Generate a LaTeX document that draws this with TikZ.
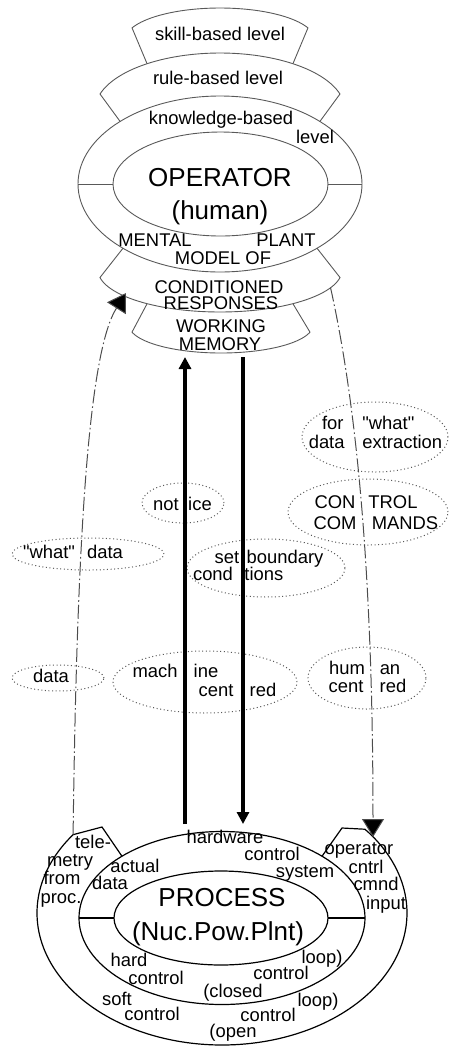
\documentclass[tikz,border=0pt]{standalone}
\usepackage{fontspec}
\setmainfont{Liberation Sans}[Ligatures=TeXOff]
\usetikzlibrary{arrows.meta,shapes.geometric}
\begin{document}
\begin{tikzpicture}[x=0.5pt,y=-0.5pt,
  lab/.style={font=\fontsize{9.2}{10}\selectfont, inner sep=0pt, text height=6.6pt, text depth=0pt},
  big/.style={font=\fontsize{13}{15}\selectfont, inner sep=0pt, text height=9.3pt, text depth=0pt},
  faint/.style={draw=black!65, line width=0.45pt},
  solidl/.style={draw=black, line width=0.6pt},
  dotell/.style={ellipse, draw=black!65, line width=0.5pt, dash pattern=on 0.5pt off 1.3pt, inner sep=0pt, outer sep=0pt},
  ring/.style={ellipse, inner sep=0pt, outer sep=0pt},
  thickarrow/.style={line width=2pt, -{Triangle[length=6pt,width=6pt]}},
  conn/.style={draw=black!70, line width=0.5pt, dash pattern=on 7pt off 1.5pt on 0.8pt off 1.5pt, -{Triangle[length=9pt,width=11pt,fill=black]}}
]
\useasboundingbox (0,0) rectangle (451,1046);

% ---------- operator (top) structure ----------
\node[ring, faint, minimum width=142pt, minimum height=88pt] (kbE) at (220,184) {};
\node[ring, faint, minimum width=107.5pt, minimum height=52pt] (opE) at (220.5,184) {};
\draw[faint] (kbE.west) -- (opE.west) (opE.east) -- (kbE.east);

% skill-based level shape
\draw[faint] ({220+125*cos(234.3)},{110+57*sin(234.3)}) -- plot[domain=202.2:337.8, samples=60] ({220+95*cos(\x)},{40+32*sin(\x)}) -- ({220+125*cos(305.7)},{110+57*sin(305.7)});
% rule-based level shape
\draw[faint] ({220+142*cos(225.3)},{184+88*sin(225.3)}) -- plot[domain=196.3:343.7, samples=60] ({220+125*cos(\x)},{110+57*sin(\x)}) -- ({220+142*cos(314.7)},{184+88*sin(314.7)});
% conditioned responses shape
\draw[faint] ({220+142*cos(46.9)},{184+88*sin(46.9)}) -- plot[domain=10.3:169.7, samples=60] ({220+122*cos(\x)},{270+42*sin(\x)}) -- ({220+142*cos(133.1)},{184+88*sin(133.1)});
% working memory shape
\draw[faint] ({220+122*cos(53.3)},{270+42*sin(53.3)}) -- plot[domain=14.7:165.3, samples=60] ({221+92*cos(\x)},{325+28*sin(\x)}) -- ({220+122*cos(126.7)},{270+42*sin(126.7)});

\node[lab] (tskill) at (220,34) {skill-based level};
\node[lab] (trule) at (218,78) {rule-based level};
\node[lab] (tknow) at (221,118) {knowledge-based};
\node[lab] (tlevel) at (315,137) {level};
\node[big] (toper) at (220,177) {OPERATOR};
\node[big] (thum) at (220,210) {(human)};
\node[lab] (tmental) at (155,240) {MENTAL};
\node[lab] (tplant) at (286,240) {PLANT};
\node[lab] (tmodel) at (223,258) {MODEL OF};
\node[lab] (tcond) at (219,287) {CONDITIONED};
\node[lab] (tresp) at (221,303) {RESPONSES};
\node[lab] (twork) at (221,326) {WORKING};
\node[lab] (tmem) at (220,344) {MEMORY};

% ---------- dotted label ellipses ----------
\node[dotell, minimum width=73pt, minimum height=35pt] (forE) at (375,437) {};
\node[dotell, minimum width=80pt, minimum height=33pt] (ctlE) at (368,512) {};
\node[dotell, minimum width=41pt, minimum height=20pt] (notE) at (183,503) {};
\node[dotell, minimum width=76pt, minimum height=16pt] (whatE) at (88,554) {};
\node[dotell, minimum width=79pt, minimum height=29pt] (setE) at (266,568) {};
\node[dotell, minimum width=46pt, minimum height=13pt] (dataE) at (58,678) {};
\node[dotell, minimum width=92pt, minimum height=31pt] (machE) at (205,682) {};
\node[dotell, minimum width=59pt, minimum height=31pt] (humE) at (367,678) {};

\node[lab, anchor=east] (tfor) at (344,423) {for};
\node[lab, anchor=west] (twhat1) at (362,423) {"what"};
\node[lab, anchor=east] (tdata1) at (345,442) {data};
\node[lab, anchor=west] (textr) at (362,442) {extraction};
\node[lab] (tcon) at (335,502) {CON};
\node[lab] (ttrol) at (393,502) {TROL};
\node[lab] (tcom) at (335,523) {COM};
\node[lab] (tmands) at (405,523) {MANDS};
\node[lab] (tnot) at (166,504) {not};
\node[lab] (tice) at (200,504) {ice};
\node[lab] (twhat2) at (49,552) {"what"};
\node[lab] (tdata2) at (105,552) {data};
\node[lab] (tset) at (227,557) {set};
\node[lab] (tbound) at (285,557) {boundary};
\node[lab] (tcondi) at (213,574) {cond};
\node[lab, anchor=west] (titions) at (240,574) {itions};
\node[lab] (tdata3) at (51,676) {data};
\node[lab] (tmach) at (155,671) {mach};
\node[lab] (tine) at (206,671) {ine};
\node[lab] (tcent1) at (216,690) {cent};
\node[lab] (tred1) at (263,690) {red};
\node[lab] (thum2) at (347,668) {hum};
\node[lab] (tan) at (390,668) {an};
\node[lab] (tcent2) at (346,686) {cent};
\node[lab] (tred2) at (393,686) {red};

% ---------- process (bottom) structure ----------
\node[ring, solidl, minimum width=143pt, minimum height=86.5pt] (midE) at (222,918) {};
\node[ring, solidl, minimum width=107pt, minimum height=47pt] (prE) at (221,918) {};
\draw[solidl] (midE.west) -- (prE.west) (prE.east) -- (midE.east);
\coordinate (lb1) at ({222+185*cos(216.4)},{913+132*sin(216.4)});
\coordinate (lbPeak) at (102,827);
\coordinate (rbPeak) at (342,828);
\draw[solidl] ({222+143*cos(314.4)},{918+86.5*sin(314.4)}) -- (rbPeak) -- plot[domain=-39.4:216.4, samples=150] ({222+185*cos(\x)},{913+132*sin(\x)}) -- (lbPeak) -- ({222+143*cos(225.6)},{918+86.5*sin(225.6)});

\node[big] (tproc) at (222,897) {PROCESS};
\node[big] (tnuc) at (218,931) {(Nuc.Pow.Plnt)};
\node[lab] (ttele) at (93,842) {tele-};
\node[lab] (tmetry) at (70,860) {metry};
\node[lab] (tfrom) at (62,878) {from};
\node[lab] (tproc2) at (61,897) {proc.};
\node[lab] (tactual) at (135,866) {actual};
\node[lab] (tdata4) at (110,883) {data};
\node[lab] (thard) at (225,837) {hardware};
\node[lab] (tctl1) at (272,854) {control};
\node[lab] (tsys) at (305,871) {system};
\node[lab] (toper2) at (359,848) {operator};
\node[lab] (tcntrl) at (366,867) {cntrl};
\node[lab] (tcmnd) at (376,884) {cmnd};
\node[lab] (tinput) at (386,903) {input};
\node[lab] (tloop1) at (322,957) {loop)};
\node[lab] (thard2) at (129,960) {hard};
\node[lab] (tctl2) at (156,978) {control};
\node[lab] (tctl3) at (281,973) {control};
\node[lab] (tclosed) at (233,991) {(closed};
\node[lab] (tloop2) at (318,1000) {loop)};
\node[lab] (tsoft) at (117,999) {soft};
\node[lab] (tctl4) at (152,1014) {control};
\node[lab] (tctl5) at (268,1015) {control};
\node[lab] (topen) at (233,1031) {(open};

% ---------- connectors ----------
\coordinate (upS) at (185,824);
\coordinate (upE) at (185,357);
\coordinate (dnS) at (243,357);
\coordinate (dnE) at (243,824);
\draw[thickarrow] (upS) -- (upE);
\draw[thickarrow] (dnS) -- (dnE);

\coordinate (lcTip) at (126,293);
\draw[conn] (lb1) .. controls (77,520) and (90,350) .. (lcTip);
\coordinate (rcS) at ({220+122*cos(25)},{270+42*sin(25)});
\coordinate (rcTip) at (373,837);
\draw[conn] (rcS) .. controls (360,420) and (373,600) .. (rcTip);
\end{tikzpicture}
\end{document}
